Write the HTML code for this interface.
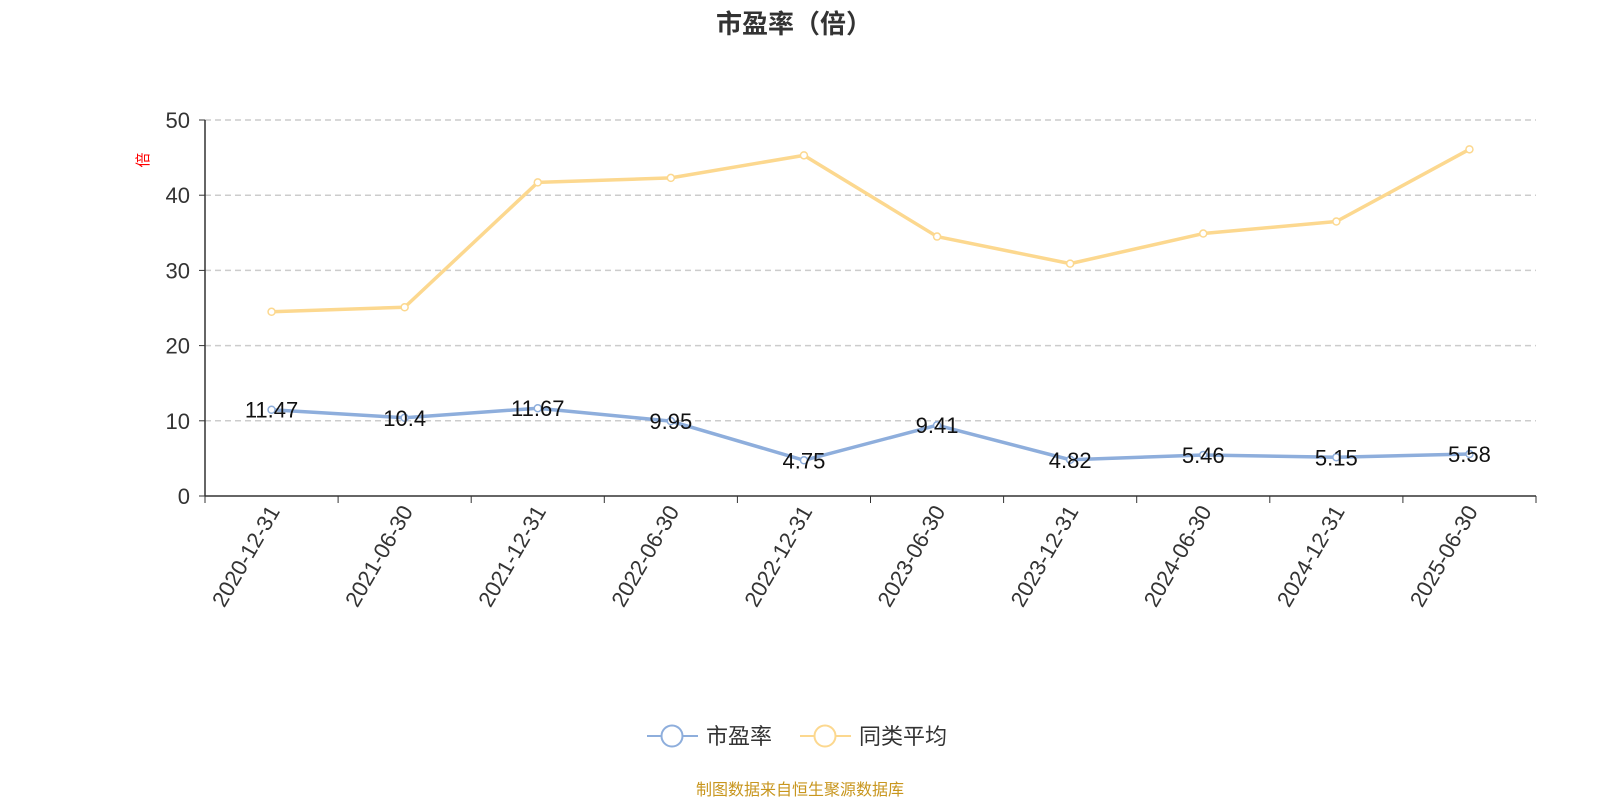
<!DOCTYPE html>
<html><head><meta charset="utf-8">
<style>
body{margin:0;background:#fff;width:1600px;height:800px;overflow:hidden;font-family:"Liberation Sans","Noto Sans CJK SC",sans-serif;}
</style></head>
<body>
<svg id="chart" width="1600" height="800" xmlns="http://www.w3.org/2000/svg" font-family="Liberation Sans, Noto Sans CJK SC, sans-serif">
<text x="794" y="33" text-anchor="middle" font-size="26" font-weight="bold" fill="#333">市盈率（倍）</text>
<text x="0" y="0" transform="translate(148,160) rotate(-90)" text-anchor="middle" font-size="15" fill="#f00">倍</text>
<g id="grid"></g><g id="axes"></g><g id="series"></g>
<g>
<g>
<line x1="647" y1="736" x2="698" y2="736" stroke="#8eaedc" stroke-width="2"/>
<circle cx="672" cy="736" r="10.5" fill="#fff" stroke="#8eaedc" stroke-width="2"/>
<text x="706" y="744" font-size="22" fill="#333">市盈率</text></g>
<g>
<line x1="800" y1="736" x2="851" y2="736" stroke="#fcd88f" stroke-width="2"/>
<circle cx="825" cy="736" r="10.5" fill="#fff" stroke="#fcd88f" stroke-width="2"/>
<text x="859" y="744" font-size="22" fill="#333">同类平均</text></g>
</g>
<text x="800" y="795" text-anchor="middle" font-size="16" fill="#c8961e">制图数据来自恒生聚源数据库</text>
</svg>
<script>
const categories=["2020-12-31","2021-06-30","2021-12-31","2022-06-30","2022-12-31","2023-06-30","2023-12-31","2024-06-30","2024-12-31","2025-06-30"];
const peValues=[11.47,10.4,11.67,9.95,4.75,9.41,4.82,5.46,5.15,5.58];
const avgValues=[24.5,25.1,41.7,42.3,45.3,34.5,30.9,34.9,36.5,46.1];
const yTicks=[0,10,20,30,40,50];
const NS="http://www.w3.org/2000/svg";
const X0=205,X1=1536,Y0=496,Y1=120,YMAX=50;
const bw=(X1-X0)/categories.length;
function xPos(i){return X0+bw*(i+0.5);}
function yPos(v){return Y0-(v/YMAX)*(Y0-Y1);}
function mk(tag,attrs,parent,text){const e=document.createElementNS(NS,tag);for(const k in attrs)e.setAttribute(k,attrs[k]);if(text!==undefined)e.textContent=text;parent.appendChild(e);return e;}
const grid=document.getElementById('grid'),axes=document.getElementById('axes'),series=document.getElementById('series');
yTicks.forEach(t=>{
  const y=yPos(t);
  if(t>0){const l=mk('line',{x1:X0,x2:X1,y1:y,y2:y,stroke:'#ccc','stroke-dasharray':'6,4','stroke-width':1.5},grid);
  
  }
  mk('line',{x1:X0-6,x2:X0,y1:y,y2:y,stroke:'#333'},axes);
  const tx=mk('text',{x:X0-15,y:y+8,'text-anchor':'end','font-size':22,fill:'#333'},axes,String(t));
  
  
});
const ya=mk('line',{x1:X0,x2:X0,y1:Y1,y2:Y0,stroke:'#333','stroke-width':1.5},axes);


const xa=mk('line',{x1:X0,x2:X1,y1:Y0,y2:Y0,stroke:'#333','stroke-width':1.5},axes);


for(let i=0;i<=categories.length;i++){const x=X0+bw*i;mk('line',{x1:x,x2:x,y1:Y0,y2:Y0+7,stroke:'#333'},axes);}
categories.forEach((c,i)=>{
  const x=xPos(i)+9,y=Y0+15;
  const t=mk('text',{x:0,y:0,transform:`translate(${x},${y}) rotate(-60)`,'text-anchor':'end','font-size':22,fill:'#333'},axes,c);
  
  
});
function drawSeries(vals,color,name,labels){
  const pts=vals.map((v,i)=>xPos(i)+','+yPos(v)).join(' ');
  const pl=mk('polyline',{points:pts,fill:'none',stroke:color,'stroke-width':3.5,'stroke-linejoin':'round'},series);
  
  
  vals.forEach((v,i)=>{
    const c=mk('circle',{cx:xPos(i),cy:yPos(v),r:3.5,fill:'#fff',stroke:color,'stroke-width':1.5},series);
    
    
    if(labels){const t=mk('text',{x:xPos(i),y:yPos(v)+8,'text-anchor':'middle','font-size':22,fill:'#111'},series,String(v));
    
    }
  });
}
drawSeries(avgValues,'#fcd88f','peer-average',false);
drawSeries(peValues,'#8eaedc','pe',true);
</script>
</body></html>
